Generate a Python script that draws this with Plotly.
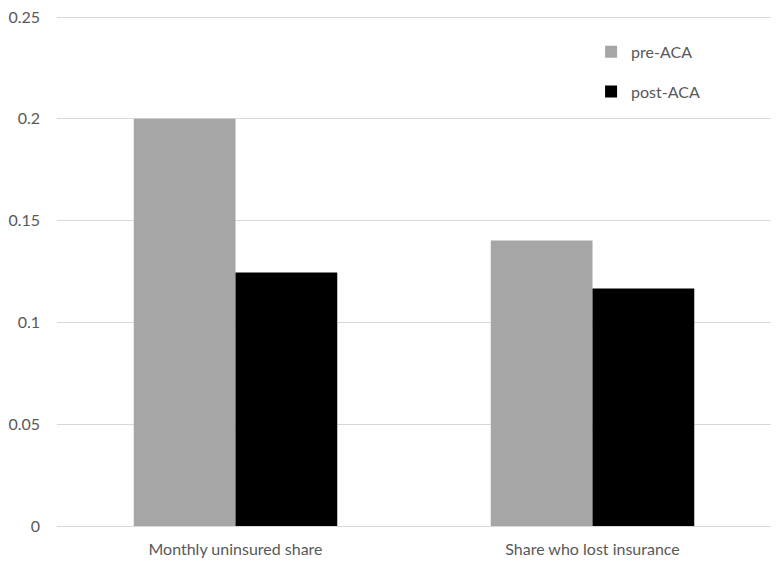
import plotly.graph_objects as go

categories = ["Monthly uninsured share", "Share who lost insurance"]
pre_aca = [0.2, 0.1402]
post_aca = [0.1245, 0.1167]
y_ticks = [0, 0.05, 0.1, 0.15, 0.2, 0.25]
y_tick_labels = ["0", "0.05", "0.1", "0.15", "0.2", "0.25"]

FONT = "Lato, 'Open Sans', sans-serif"
TEXT_COLOR = "#595959"

fig = go.Figure()
fig.add_trace(go.Bar(x=categories, y=pre_aca, name="pre-ACA",
                     marker=dict(color="#a6a6a6", line_width=0),
                     legendgroup="pre"))
fig.add_trace(go.Bar(x=categories, y=post_aca, name="post-ACA",
                     marker=dict(color="#000000", line_width=0),
                     legendgroup="post"))

fig.update_layout(
    width=783, height=568,
    margin=dict(l=57, r=12, t=16, b=42, autoexpand=False),
    plot_bgcolor="white", paper_bgcolor="white",
    barmode="group", bargap=0.43, bargroupgap=0,
    font=dict(family=FONT, size=16, color=TEXT_COLOR),
    legend=dict(x=0.748, y=0.963, xanchor="left", yanchor="top",
                tracegroupgap=16, bgcolor="rgba(0,0,0,0)",
                font=dict(size=16, color=TEXT_COLOR)),
)
fig.update_yaxes(range=[0, 0.2505], tickvals=y_ticks, ticktext=y_tick_labels,
                 showgrid=True, gridcolor="#d9d9d9", gridwidth=1,
                 zeroline=True, zerolinecolor="#d9d9d9", zerolinewidth=1,
                 ticks="", ticklabelstandoff=16, automargin=False)
fig.update_xaxes(showgrid=False, ticks="", showline=False,
                 ticklabelstandoff=12, automargin=False)

# drop the default 8px body margin so the figure sits flush in the window
fig.write_html("out.html", config={"displayModeBar": False},
               post_script="document.body.style.margin='0';")
